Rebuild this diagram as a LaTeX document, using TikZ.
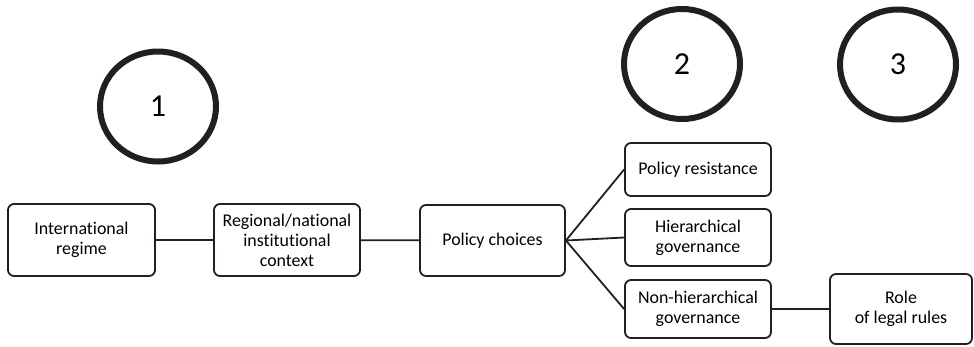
\documentclass[tikz,border=0pt]{standalone}
\usepackage{fontspec}
\setmainfont{Carlito}[Ligatures=NoCommon]
\usetikzlibrary{shapes.geometric}
\definecolor{ink}{RGB}{35,31,32}
\tikzset{
  box/.style={draw=ink, line width=1.8pt, rounded corners=6pt, inner sep=0pt, align=center,
    font=\fontsize{17.9}{20}\selectfont, text=black},
  num/.style={draw=ink, ellipse, line width=6pt, inner sep=0pt, minimum width=116pt, minimum height=110pt,
    font=\fontsize{32}{36}\selectfont, text=black},
  link/.style={draw=ink, line width=1.8pt}
}
\begin{document}
\begin{tikzpicture}[x=1pt,y=-1pt]
\useasboundingbox (0,0) rectangle (974,346);
\node[num] (c1) at (158,106.5) {1};
\node[num] (c2) at (682,64) {2};
\node[num] (c3) at (898,64.5) {3};

\node[box, minimum width=147pt, minimum height=72pt] (intl) at (81.5,240) {International\\regime};
\node[box, minimum width=146pt, minimum height=72pt] (reg) at (287,240) {Regional/national\\institutional\\context};
\node[box, minimum width=145pt, minimum height=71pt] (choice) at (492.5,240.5) {Policy choices};
\node[box, minimum width=146pt, minimum height=53pt] (resist) at (698,169.5) {Policy resistance};
\node[box, minimum width=146pt, minimum height=57pt] (hier) at (698,237.5) {Hierarchical\\governance};
\node[box, minimum width=146pt, minimum height=58pt] (nonhier) at (698,309) {Non-hierarchical\\governance};
\node[box, minimum width=142pt, minimum height=70pt] (role) at (901,309) {Role\\of legal rules};

\draw[link] (intl) -- (reg);
\draw[link] (reg) -- (choice);
\draw[link] (choice.east) -- (resist.west);
\draw[link] (choice.east) -- (hier.west);
\draw[link] (choice.east) -- (nonhier.west);
\draw[link] (nonhier) -- (role);
\end{tikzpicture}
\end{document}
